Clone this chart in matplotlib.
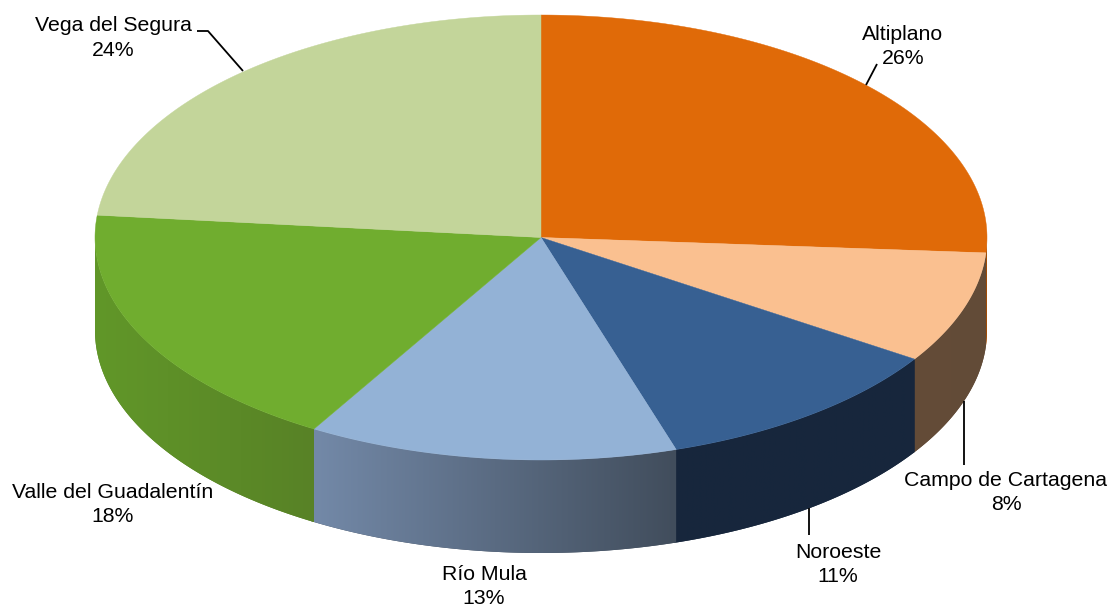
import numpy as np
import matplotlib
matplotlib.use('Agg')
import matplotlib.pyplot as plt
from matplotlib.patches import Polygon
from matplotlib.colors import LinearSegmentedColormap

# slices, clockwise from 12 o'clock
names = ['Altiplano', 'Campo de Cartagena', 'Noroeste', 'Río Mula', 'Valle del Guadalentín', 'Vega del Segura']
values = [26.1, 8.1, 10.9, 13.4, 18.1, 23.4]
percents = [26, 8, 11, 13, 18, 24]
top_colors = ['#E06A08', '#FAC090', '#376092', '#93B2D6', '#70AD2F', '#C3D59A']
side_left = ['#A04C06', '#644C38', '#17263C', '#7389A8', '#619729', '#8A9A6E']
side_right = ['#A04C06', '#624B37', '#17273D', '#414D5C', '#588226', '#8A9A6E']
label_x = [903, 1006, 838, 484, 113, 113]
label_y = [46.5, 492.5, 564.5, 586.5, 504.5, 38]

# pixel geometry of the pie
cx, cy = 541, 237.5
rx, ry = 446, 222.5
depth = 93

plt.rcParams['font.family'] = ['Liberation Sans', 'DejaVu Sans']

fig = plt.figure(figsize=(11.16, 6.07), dpi=100)
ax = fig.add_axes([0, 0, 1, 1])
ax.axis('off')


def ell(t, dy=0):
    t = np.radians(t)
    return np.column_stack([cx + rx * np.cos(t), cy - ry * np.sin(t) + dy])


# angles go clockwise, so they fall from 90
edges = 90 - np.cumsum([0] + values) * 3.6

# side walls first, only the front half (-180..0) has one
for i in range(len(values)):
    lo = max(edges[i + 1], -180)
    hi = min(edges[i], 0)
    if lo >= hi:
        continue
    t = np.linspace(hi, lo, 120)
    pts = np.vstack([ell(t), ell(t[::-1], depth)])
    # flat underlay runs a little past the next slice to stop white seams
    t2 = np.linspace(hi, max(lo - 0.4, -180), 120)
    ax.add_patch(Polygon(np.vstack([ell(t2), ell(t2[::-1], depth)]), closed=True,
                         fc=side_right[i], ec='none', zorder=1 + i * 0.01))
    poly = Polygon(pts, closed=True, fc='none', ec='none')
    ax.add_patch(poly)
    cmap = LinearSegmentedColormap.from_list('s', [side_left[i], side_right[i]])
    im = ax.imshow(np.linspace(0, 1, 256).reshape(1, -1), cmap=cmap, aspect='auto',
                   extent=[pts[:, 0].min(), pts[:, 0].max(), pts[:, 1].max(), pts[:, 1].min()], zorder=1.5)
    im.set_clip_path(poly)

ax.set_xlim(0, 1116)
ax.set_ylim(607, 0)

# top faces
for i in range(len(values)):
    t = np.linspace(edges[i], edges[i + 1], 200)
    pts = np.vstack([[cx, cy], ell(t)])
    ax.add_patch(Polygon(pts, closed=True, fc=top_colors[i], ec=top_colors[i], lw=0.3, zorder=2))

# leader lines
leaders = [([877, 866], [64, 85]), ([964, 964], [401, 465]), ([809, 809], [508, 535]),
           ([197, 208, 243], [31, 31, 71])]
for lx, ly in leaders:
    ax.plot(lx, ly, color='black', lw=1.3, solid_capstyle='butt', zorder=3)

for i, name in enumerate(names):
    ax.text(label_x[i], label_y[i], f'{name}\n{percents[i]}%', ha='center', va='center',
            fontsize=15.3, color='black', linespacing=1.36, zorder=4)

fig.savefig('out.png', dpi=100)
